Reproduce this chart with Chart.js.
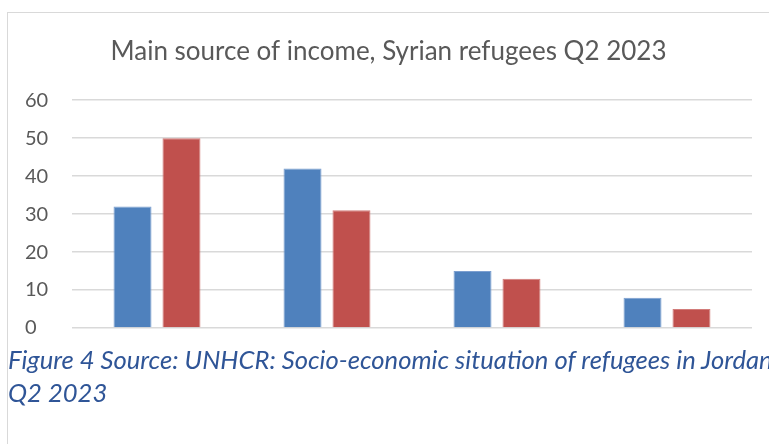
<!DOCTYPE html>
<html>
<head>
<meta charset="utf-8">
<script src="https://cdn.jsdelivr.net/npm/chart.js@4"></script>
<style>
  html, body { margin: 0; padding: 0; background: #fff; overflow: hidden; }
  body { width: 769px; height: 444px; position: relative; }
  #frame {
    position: absolute; left: 7px; top: 12px; width: 800px; height: 500px;
    border-top: 1px solid #d9d9d9; border-left: 1px solid #d9d9d9;
  }
  #chartBox { position: absolute; left: 0; top: 0; width: 769px; height: 444px; }
  #caption {
    position: absolute; left: 8px; top: 343px; white-space: nowrap;
    font-family: Lato, sans-serif; font-style: italic; font-size: 25.6px;
    line-height: 33px; color: #2f5597;
  }
</style>
</head>
<body>
<div id="frame"></div>
<div id="chartBox"><canvas id="incomeChart" width="769" height="444"></canvas></div>
<div id="caption">Figure 4 Source: UNHCR: Socio-economic situation of refugees in Jordan<br>Q2 2023</div>
<script>
const categories = ['1', '2', '3', '4'];
const seriesNames = ['Series 1', 'Series 2'];
const blueValues = [32, 42, 15, 8];
const redValues = [50, 31, 13, 5];
const yTicks = [0, 10, 20, 30, 40, 50, 60];

const ctx = document.getElementById('incomeChart').getContext('2d');
new Chart(ctx, {
    type: 'bar',
    data: {
        labels: categories,
        datasets: [{
            label: seriesNames[0],
            data: blueValues,
            backgroundColor: '#4f81bd',
            borderColor: '#7c9fd0',
            borderWidth: 1
        }, {
            label: seriesNames[1],
            data: redValues,
            backgroundColor: '#c0504d',
            borderColor: '#d27c7a',
            borderWidth: 1
        }]
    },
    options: {
        responsive: false,
        animation: false,
        categoryPercentage: 0.576,
        barPercentage: 0.776,
        layout: { padding: { left: 25, right: 17, top: 0, bottom: 116 } },
        plugins: {
            legend: { display: false },
            tooltip: { enabled: false },
            title: {
                display: true,
                text: 'Main source of income, Syrian refugees Q2 2023',
                color: '#595959',
                font: { family: 'Lato', size: 26, weight: 'normal' },
                padding: { top: 36, bottom: 33 }
            }
        },
        scales: {
            x: {
                display: false
            },
            y: {
                min: 0,
                max: 60,
                afterBuildTicks: axis => { axis.ticks = yTicks.map(v => ({ value: v })); },
                afterFit: axis => { axis.width = 47; },
                ticks: {
                    color: '#595959',
                    font: { family: 'Lato', size: 20 },
                    crossAlign: 'far',
                    padding: 24
                },
                grid: { color: '#d9d9d9', lineWidth: 1.5, drawTicks: false },
                border: { display: false }
            }
        }
    }
});
</script>
</body>
</html>
